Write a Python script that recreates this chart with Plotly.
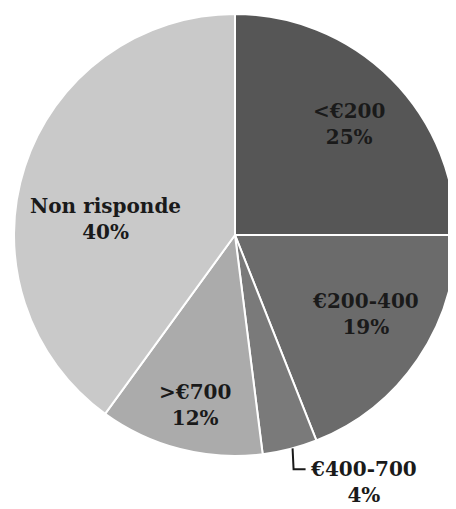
import math
import plotly.graph_objects as go

categories = ["<€200", "€200-400", "€400-700", ">€700", "Non risponde"]
values = [25, 19, 4, 12, 40]
colors = ["#565656", "#6b6b6b", "#7a7a7a", "#ababab", "#c9c9c9"]

# page body has an 8px margin, so the figure is slightly smaller than the window
W, H = 448, 501
D = 442
x0d, y0d = 6, 6
cx_px, cy_px, R = x0d + D / 2, y0d + D / 2, D / 2
# radial placement factor and angular nudge (deg) for each label
rad_f = [0.72, 0.69, 1.0, 0.79, 0.59]
ang_n = [1, -3, -0.7, -1, -11]

fig = go.Figure(go.Pie(
    labels=categories, values=values, sort=False, direction="clockwise", rotation=0,
    marker=dict(colors=colors, line=dict(color="white", width=2)),
    textinfo="none", hoverinfo="label+percent", showlegend=False,
    domain=dict(x=[x0d / W, min(1, (x0d + D) / W)], y=[1 - (y0d + D) / H, 1 - y0d / H]),
))

font = dict(family="DejaVu Serif", size=20, color="#1a1a1a")
total = sum(values)
cum = 0
annotations = []
shapes = []
for i, (cat, v) in enumerate(zip(categories, values)):
    pct = round(100 * v / total)
    mid = (cum + v / 2) / total * 360
    cum += v
    text = f"<b>{cat.replace('<', '&lt;').replace('>', '&gt;')}<br>{pct}%</b>"
    if v / total < 0.08:
        # outside label with L leader
        a = math.radians(mid + ang_n[i])
        x0 = cx_px + R * math.sin(a)
        y0 = cy_px - R * math.cos(a)
        x1, y1 = x0 + 1, y0 + 21
        x2 = x1 + 12
        shapes.append(dict(type="path", xref="paper", yref="paper",
                           path=f"M {x0/W},{1-y0/H} L {x1/W},{1-y1/H} L {x2/W},{1-y1/H}",
                           line=dict(color="#1a1a1a", width=2)))
        annotations.append(dict(x=(x2 + 2) / W, y=1 - (y1 - 14) / H, xref="paper", yref="paper",
                                text=text, showarrow=False, xanchor="left", yanchor="top",
                                align="center", font=font))
    else:
        a = math.radians(mid + ang_n[i])
        r = R * rad_f[i]
        px = cx_px + r * math.sin(a)
        py = cy_px - r * math.cos(a)
        annotations.append(dict(x=px / W, y=1 - py / H, xref="paper", yref="paper",
                                text=text, showarrow=False, xanchor="center", yanchor="middle",
                                align="center", font=font))

fig.update_layout(width=W, height=H, margin=dict(l=0, r=0, t=0, b=0),
                  paper_bgcolor="white", plot_bgcolor="white",
                  annotations=annotations, shapes=shapes)
fig.write_html("out.html")
